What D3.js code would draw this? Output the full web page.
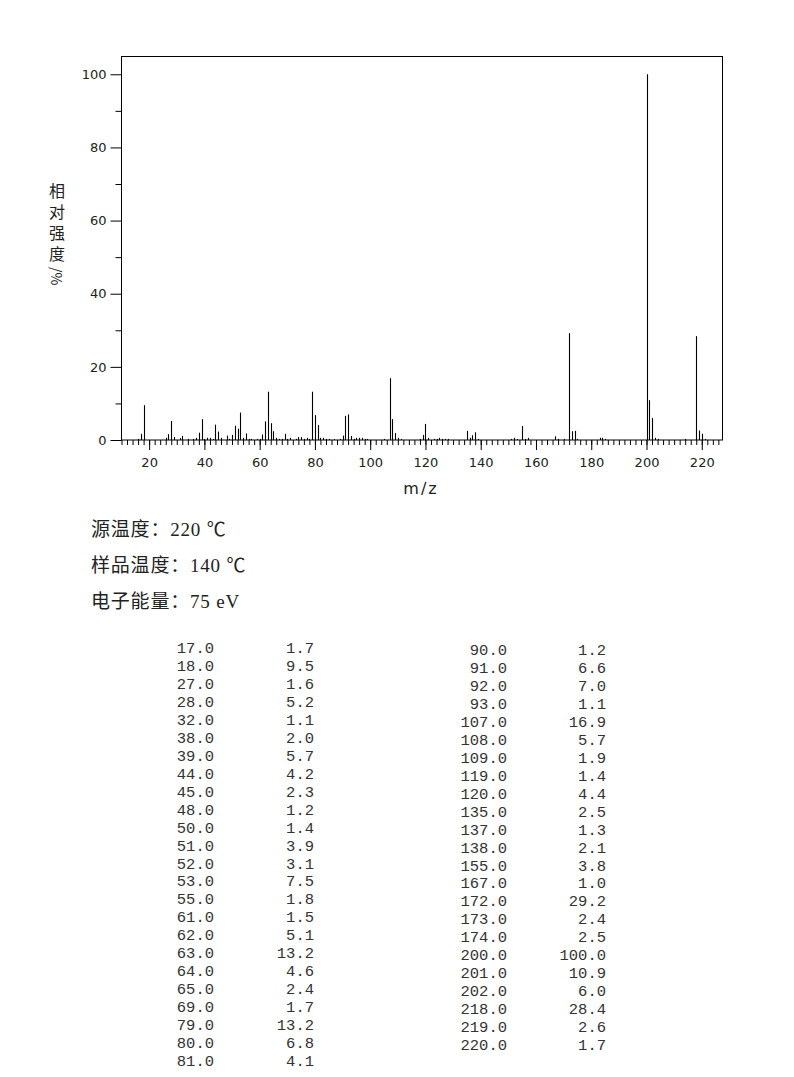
<!DOCTYPE html>
<html><head><meta charset="utf-8">
<script src="https://cdn.jsdelivr.net/npm/d3@7"></script>
<style>body{margin:0;background:#fff}</style></head>
<body>
<svg id="c" width="794" height="1077"></svg>
<script>
// Listed peaks (m/z, relative intensity %)
const peakMz = [17,18,27,28,32,38,39,44,45,48,50,51,52,53,55,61,62,63,64,65,69,79,80,81,
  90,91,92,93,107,108,109,119,120,135,137,138,155,167,172,173,174,200,201,202,218,219,220];
const peakInt = [1.7,9.5,1.6,5.2,1.1,2.0,5.7,4.2,2.3,1.2,1.4,3.9,3.1,7.5,1.8,1.5,5.1,13.2,4.6,2.4,1.7,13.2,6.8,4.1,
  1.2,6.6,7.0,1.1,16.9,5.7,1.9,1.4,4.4,2.5,1.3,2.1,3.8,1.0,29.2,2.4,2.5,100.0,10.9,6.0,28.4,2.6,1.7];
// Small unlisted peaks (estimated from the spectrum)
const minorMz = [16,26,29,31,34,36,37,40,41,42,43,46,49,54,56,57,59,60,66,67,68,70,71,73,74,75,76,77,78,
  82,83,84,85,87,89,94,95,96,97,98,99,105,110,111,118,121,123,124,125,126,127,128,136,139,
  151,152,153,156,157,168,170,175,183,184,185,203,204,214,221];
const minorInt = [0.3,0.6,0.8,0.5,0.3,0.3,0.6,0.3,0.6,0.6,0.3,0.6,0.3,0.6,0.3,0.3,0.3,0.3,0.6,0.3,0.3,0.3,0.6,0.3,0.8,0.8,0.3,0.6,0.3,
  0.6,0.6,0.3,0.3,0.2,0.3,0.3,0.6,0.6,0.6,0.3,0.3,0.3,0.6,0.3,0.3,0.6,0.3,0.3,0.6,0.3,0.3,0.3,0.6,0.3,
  0.3,0.6,0.3,0.3,0.6,0.3,0.3,0.3,0.6,0.6,0.3,0.6,0.3,0.3,0.3];
const xTickLabels = [20,40,60,80,100,120,140,160,180,200,220];
const yTickLabels = [0,20,40,60,80,100];
const yTitleMain = "相对强度", yTitleUnit = "/%";
const infoLines = ["源温度：220 ℃","样品温度：140 ℃","电子能量：75 eV"];

const svg = d3.select("#c");
const x = d3.scaleLinear().domain([10, 227.5]).range([121.5, 722.5]);
const y = d3.scaleLinear().domain([0, 105]).range([440, 56]);
const ink = "#000", txt = "#222";

// frame
svg.append("rect").attr("x",121.5).attr("y",56.5).attr("width",601).attr("height",383.5)
  .attr("fill","none").attr("stroke",ink).attr("stroke-width",1);

// bars
const all = peakMz.map((m,i)=>({m, v:peakInt[i]})).concat(minorMz.map((m,i)=>({m, v:minorInt[i]})));
svg.append("g").selectAll("line").data(all).join("line")
  .attr("x1", d=>Math.round(x(d.m))+0.5).attr("x2", d=>Math.round(x(d.m))+0.5)
  .attr("y1", y(0)).attr("y2", d=>y(d.v))
  .attr("stroke", ink).attr("stroke-width", 1.1);

// x axis ticks (major every 20, minor every 2)
const xAxisMinor = d3.axisBottom(x).tickValues(d3.range(10, 228, 2)).tickSize(5).tickFormat("");
const gxm = svg.append("g").attr("transform","translate(0,440)").call(xAxisMinor);
gxm.select(".domain").remove();
const xAxis = d3.axisBottom(x).tickValues(xTickLabels).tickSize(10).tickPadding(8);
const gx = svg.append("g").attr("transform","translate(0,440)").call(xAxis);
gx.select(".domain").remove();
gx.selectAll("line").attr("stroke",ink);
gxm.selectAll("line").attr("stroke",ink);
gx.selectAll("text").attr("font-family","DejaVu Sans, sans-serif").attr("font-size",13).attr("fill",txt);

// y axis ticks
const yAxisMinor = d3.axisLeft(y).tickValues([10,30,50,70,90]).tickSize(6).tickFormat("");
const gym = svg.append("g").attr("transform","translate(121.5,0)").call(yAxisMinor);
gym.select(".domain").remove();
const yAxis = d3.axisLeft(y).tickValues(yTickLabels).tickSize(11).tickPadding(4);
const gy = svg.append("g").attr("transform","translate(121.5,0)").call(yAxis);
gy.select(".domain").remove();
gy.selectAll("line").attr("stroke",ink);
gym.selectAll("line").attr("stroke",ink);
gy.selectAll("text").attr("font-family","DejaVu Sans, sans-serif").attr("font-size",13).attr("fill",txt);

// axis titles
svg.append("text").attr("x",421).attr("y",494).attr("text-anchor","middle")
  .attr("font-family","DejaVu Sans, sans-serif").attr("font-size",16).attr("letter-spacing",2)
  .attr("fill",txt).text("m/z");
const yt = svg.append("text").attr("x",57).attr("y",183)
  .style("writing-mode","vertical-rl").style("text-orientation","mixed")
  .attr("font-family","Noto Sans CJK SC, sans-serif").attr("font-size",16).attr("fill",txt);
yt.append("tspan").attr("letter-spacing",5).text(yTitleMain);
yt.append("tspan").attr("letter-spacing",0).attr("font-size",14).text(yTitleUnit);

// info lines
svg.append("g").selectAll("text").data(infoLines).join("text")
  .attr("x",91).attr("y",(d,i)=>536+i*36)
  .attr("font-family","Liberation Serif, Noto Sans CJK SC, serif").attr("font-size",19)
  .attr("letter-spacing",0.8)
  .attr("fill",txt).text(d=>d);

// peak table
const fmt = d3.format(".1f");
const rows = peakMz.map((m,i)=>({m, v:peakInt[i]}));
const left = rows.slice(0,24), right = rows.slice(24);
function table(data, x1, x2, y0){
  const g = svg.append("g").attr("font-family","Liberation Mono, monospace").attr("font-size",15.5).attr("fill","#333");
  data.forEach((d,i)=>{
    g.append("text").attr("x",x1).attr("y",y0+i*17.96).attr("text-anchor","end").text(fmt(d.m));
    g.append("text").attr("x",x2).attr("y",y0+i*17.96).attr("text-anchor","end").text(fmt(d.v));
  });
}
table(left, 214, 314, 653);
table(right, 507, 606, 655);
</script>
</body></html>
